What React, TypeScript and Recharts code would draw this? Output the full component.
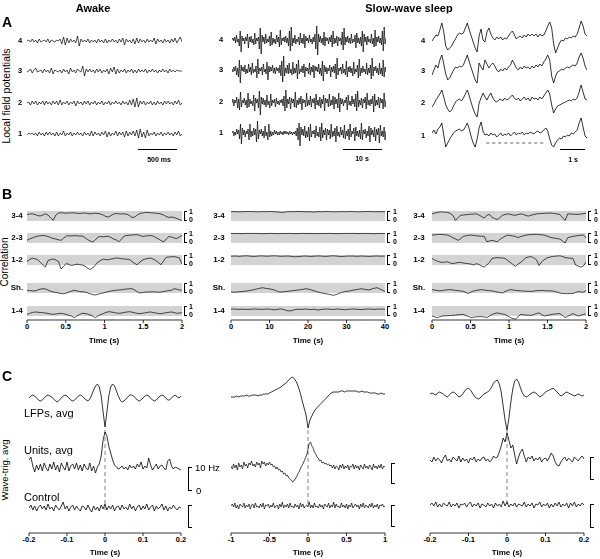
import React from 'react';
import { LineChart, Line, XAxis, YAxis, ReferenceArea, ReferenceLine } from 'recharts';

// ---- data (A and C in px-like units, B in correlation units) ----

// A, awake, channels 4..1 (2 s)
const awake4 = [0,1,-1,2,-1,1,-2,2,-1,0,1,-1,2,-2,1,0,-1,1,0,2,-3,4,-4,3,-2,2,-1,1,-2,5,-5,2,-1,1,-1,2,-2,1,-1,1,-2,2,-1,1,-2,2,-2,1,-1,2,-1,1,-2,2,-1,3,-4,2,-1,1,-2,2,-3,3,-2,2,-1,1,-2,2,-1,1,-1,3,-3,2,-1,1,-2,2,-1,1,-2,2,-1,3,-2,1,4,-1];
const awake3 = [-1,0,2,-2,1,3,-1,0,1,-2,2,-1,1,-2,3,-3,1,0,-1,1,-2,2,-1,1,-3,3,-1,1,-2,2,0,-1,5,-5,2,-1,2,-1,1,-2,2,-1,2,-2,1,-1,2,-3,3,-1,4,-3,2,-2,1,-1,2,-2,1,-1,2,-2,1,-2,2,-1,1,-1,2,-2,1,-1,2,-1,1,-2,1,-1,2,-1,1,-2,2,-1,1,-1,1,0,0,0];
const awake2 = [0,1,-2,2,-1,2,-2,1,-1,2,-2,2,-1,1,-2,2,-1,2,-2,3,-2,1,-1,2,-2,1,-1,2,-3,2,-1,1,-2,2,-1,2,-2,1,-1,2,-2,1,-1,2,-2,1,-1,2,-2,1,-1,2,-1,1,-2,2,-1,1,-2,3,-2,4,-4,5,-4,2,-1,2,-2,1,-1,2,-2,1,-2,2,-1,1,-2,2,-1,2,-1,1,-2,2,-1,3,-2,0];
const awake1 = [-1,1,0,1,-1,1,-2,2,-1,1,-2,2,-1,2,-1,1,-2,2,-2,1,-1,3,-2,1,-1,2,-2,1,-1,2,-1,1,-2,2,-1,1,-2,3,-2,2,-1,1,-2,2,-1,3,-3,2,-2,1,-1,3,-2,2,-1,2,-3,3,-2,2,-1,3,-2,4,-4,5,-3,2,-4,4,-2,1,-1,2,-2,1,-1,2,-2,1,-1,2,-1,1,-2,2,-1,3,-2,0];

// A, slow-wave sleep, 40 s
const sws4 = [0,2,-1,3,-3,5,-2,1,-6,9,-12,4,-1,2,-4,3,-1,6,-8,3,-2,4,-3,1,-5,7,-4,2,-1,3,-9,12,-14,5,-2,3,-4,6,-3,1,-2,4,-6,8,-5,2,-3,1,-4,5,-2,3,-7,10,-5,2,-1,3,-2,4,-3,2,-6,9,-11,13,-6,2,-3,5,-4,1,-2,3,-5,7,-3,2,-4,6,-8,4,-1,2,-3,5,-2,1,-4,3,-2,6,-9,14,-15,6,-2,4,-3,2,-5,8,-6,3,-1,2,-4,3,-2,5,-7,9,-4,2,-3,4,-6,3,-1,2,-5,8,-10,12,-5,3,-2,4,-3,2,-4,6,-3,1,-2,5,-8,7,-3,2,-4,3,-6,9,-12,6,-2,3,-5,4,-2,1,-3,6,-4,2,-7,10,-6,3,-2,4,-3,2,-5,9,-11,13,-4,2];
const sws3 = [1,-2,3,-1,4,-5,2,-7,10,-13,5,-1,3,-2,5,-4,1,-3,6,-2,3,-5,7,-3,1,-2,4,-8,11,-4,2,-1,3,-5,6,-2,1,-4,8,-10,4,-2,3,-1,5,-3,2,-4,3,-1,2,-3,5,-6,9,-12,14,-6,2,-3,5,-4,7,-3,1,-5,8,-4,2,-3,6,-9,10,-4,1,-2,4,-3,6,-7,3,-1,2,-4,7,-5,3,-2,5,-8,4,-1,3,-2,6,-4,2,-6,9,-11,5,-2,3,-4,2,-1,5,-7,3,-2,4,-3,6,-9,12,-5,2,-1,3,-4,6,-3,1,-5,9,-7,3,-2,4,-3,2,-6,8,-4,1,-2,5,-8,11,-6,2,-3,4,-2,1,-4,7,-5,2,-3,5,-9,12,-6,3,-1,4,-3,2,-5,7,-4,2,-6,10,-7,3,-2];
const sws2 = [-1,3,-4,2,-1,5,-6,3,-8,10,-5,2,-1,4,-3,2,-6,9,-5,3,-2,1,-4,7,-9,4,-1,3,-6,11,-13,5,-2,4,-3,2,-5,7,-3,1,-6,8,-4,2,-1,3,-5,4,-2,1,-3,2,-1,3,-4,6,-9,12,-6,3,-2,5,-7,4,-1,3,-5,10,-6,2,-3,4,-2,6,-8,3,-1,2,-5,9,-4,2,-3,6,-5,3,-1,4,-7,8,-3,2,-4,5,-6,3,-2,7,-9,4,-1,3,-5,8,-4,2,-3,6,-7,5,-2,3,-6,9,-10,4,-2,3,-4,2,-1,5,-8,7,-3,1,-4,6,-2,3,-5,8,-9,11,-5,2,-3,4,-6,3,-1,5,-7,9,-3,2,-4,3,-2,6,-10,8,-4,2,-3,5,-6,4,-1,3,-7,9,-5,2];
const sws1 = [0,2,-3,1,-2,4,-1,3,-6,9,-11,5,-2,3,-4,2,-1,4,-7,9,-4,2,-3,5,-2,4,-9,12,-6,3,-1,4,-3,2,-5,7,-3,1,-7,9,-4,2,-3,1,-2,3,-1,2,-2,1,-2,2,-1,1,-2,2,-1,2,-1,1,-2,2,-1,1,-2,1,-1,2,-3,5,-7,10,-13,6,-2,4,-3,7,-5,2,-4,6,-8,9,-4,2,-1,3,-5,7,-3,1,-4,6,-8,10,-5,3,-2,5,-7,4,-2,3,-6,9,-4,2,-3,5,-9,7,-3,1,-4,6,-2,3,-5,8,-6,2,-3,4,-7,9,-4,2,-1,5,-8,6,-3,2,-4,3,-6,10,-7,3,-1,4,-5,2,-3,7,-9,5,-2,3,-4,6,-8,4,-2,5,-10,8,-3,2,-4,6,-7,2];

// A, slow-wave sleep, expanded
const slow4 = [-3,0,3,2,8,15,6,-8,-12,-10,-8,-4,-1,3,5,4,5,10,15,8,2,-4,-10,-14,2,9,-2,-4,6,10,4,0,-2,1,-1,1,-2,0,-1,2,5,7,3,-1,1,2,0,3,1,4,2,4,2,4,1,4,2,3,7,12,16,10,-6,-15,-10,-5,-2,-3,0,-1,1,0,2,1,4,10,17,12,4,2];
const slow3 = [-7,-2,3,0,8,13,4,-6,-12,-10,-6,-2,1,0,2,1,3,8,13,6,0,-6,-12,-15,5,1,-2,8,4,0,3,5,2,-2,-4,-1,-3,0,-2,1,3,8,4,0,-2,1,-1,2,0,1,-1,2,0,3,1,4,2,6,9,13,8,-8,-15,-8,-4,-3,-1,-2,0,1,0,2,3,2,5,11,15,10,2,-2];
const slow2 = [-7,-4,0,3,6,10,3,-5,-9,-12,-10,-6,-2,0,1,-1,2,6,10,4,-3,-9,-14,-17,-3,2,7,3,0,4,7,2,-1,-2,0,1,-1,2,0,1,3,5,2,0,2,-1,1,3,0,2,-1,3,1,2,0,3,1,4,7,10,6,-5,-13,-9,-6,-5,-4,-3,-2,-1,0,-1,1,0,2,8,15,8,1,0];
const slow1 = [0,3,-1,4,6,10,-2,-14,-10,-6,-3,0,2,3,4,2,3,6,10,4,-4,-10,-14,-6,5,11,2,-2,-1,-3,0,-2,-1,-4,-2,0,-3,-1,-2,0,-3,-1,1,-2,0,-1,1,-2,0,-1,1,0,-1,1,2,0,1,3,5,2,-6,-12,-14,-10,-7,-5,-6,-3,-4,-2,-3,0,-1,1,3,10,15,6,-3,-5];

// B, correlation, awake (0-2 s)
const corrA34 = [0.65,0.7,0.72,0.65,0.55,0.5,0.6,0.72,0.6,0.3,0.08,0.6,0.8,0.82,0.8,0.78,0.8,0.82,0.8,0.78,0.75,0.78,0.8,0.75,0.72,0.75,0.78,0.75,0.7,0.6,0.45,0.4,0.55,0.7,0.75,0.72,0.7,0.72,0.68,0.55,0.35,0.4,0.6,0.75,0.8,0.85,0.85,0.82,0.8,0.78,0.75,0.7,0.6,0.45,0.35,0.4,0.35,0.25,0.15,0.05];
const corrA23 = [0.27,0.4,0.5,0.6,0.68,0.72,0.75,0.72,0.65,0.55,0.45,0.4,0.32,0.27,0.5,0.7,0.72,0.7,0.74,0.72,0.7,0.7,0.55,0.35,0.2,0.1,0.3,0.6,0.65,0.62,0.66,0.67,0.55,0.4,0.3,0.12,0.4,0.7,0.75,0.78,0.8,0.82,0.83,0.75,0.65,0.7,0.72,0.75,0.7,0.55,0.4,0.25,0.1,0.4,0.65,0.6,0.5,0.45,0.6,0.75];
const corrA12 = [0.35,0.55,0.68,0.62,0.55,0.3,0.03,-0.2,0.45,0.55,0.6,0.5,0.35,-0.4,-0.1,0.15,0.05,-0.05,0.02,0.08,0.05,0.0,-0.1,-0.3,-0.45,-0.3,0.0,0.3,0.45,0.58,0.55,0.52,0.6,0.65,0.7,0.68,0.62,0.6,0.58,0.55,0.35,0.15,0.03,0.3,0.5,0.6,0.65,0.7,0.6,0.45,0.25,0.03,0.4,0.77,0.8,0.82,0.84,0.78,0.7,0.1];
const corrASh = [0.27,0.25,0.22,0.2,0.3,0.38,0.43,0.4,0.3,0.18,0.1,0.05,0.0,-0.05,-0.07,0.0,0.1,0.2,0.27,0.22,0.15,0.12,0.1,0.02,-0.08,-0.15,-0.2,-0.12,-0.05,0.0,0.08,0.15,0.2,0.25,0.28,0.3,0.33,0.37,0.4,0.42,0.43,0.3,0.12,0.0,0.05,0.08,0.1,0.1,0.12,0.1,0.08,0.1,0.15,0.2,0.25,0.27,0.43,0.38,0.3,0.28];
const corrA14 = [0.17,0.25,0.35,0.4,0.38,0.35,0.33,0.3,0.25,0.2,0.17,0.2,0.25,0.27,0.22,0.15,0.05,0.0,-0.17,0.0,0.15,0.27,0.25,0.2,0.1,0.0,-0.17,0.0,0.15,0.23,0.35,0.43,0.4,0.35,0.3,0.27,0.3,0.35,0.4,0.43,0.38,0.32,0.27,0.23,0.28,0.32,0.37,0.4,0.35,0.3,0.25,0.23,0.28,0.33,0.37,0.4,0.35,0.27,0.3,0.33];

// B, correlation, slow-wave sleep (0-40 s)
const corrS34 = [0.93,0.94,0.92,0.93,0.95,0.94,0.93,0.92,0.94,0.93,0.95,0.93,0.9,0.85,0.92,0.94,0.93,0.95,0.94,0.92,0.93,0.9,0.94,0.93,0.95,0.94,0.92,0.93,0.94,0.93,0.95,0.94,0.92,0.93,0.94,0.95,0.93,0.94,0.93,0.94];
const corrS23 = [0.95,0.96,0.95,0.94,0.96,0.95,0.96,0.95,0.93,0.95,0.96,0.95,0.94,0.96,0.95,0.96,0.94,0.95,0.96,0.95,0.96,0.95,0.94,0.96,0.95,0.96,0.95,0.94,0.95,0.96,0.95,0.96,0.94,0.95,0.96,0.95,0.93,0.95,0.96,0.95];
const corrS12 = [0.88,0.9,0.87,0.9,0.92,0.88,0.86,0.9,0.91,0.88,0.9,0.92,0.89,0.87,0.9,0.88,0.82,0.84,0.88,0.9,0.86,0.88,0.91,0.89,0.86,0.9,0.92,0.88,0.85,0.88,0.9,0.89,0.87,0.9,0.88,0.86,0.89,0.9,0.88,0.9];
const corrSSh = [0.1,0.08,0.12,0.15,0.2,0.27,0.35,0.45,0.53,0.45,0.4,0.3,0.12,0.1,0.15,0.2,0.25,0.3,0.35,0.43,0.35,0.22,0.1,0.0,-0.07,-0.15,-0.23,-0.1,0.05,0.15,0.2,0.3,0.35,0.43,0.35,0.3,0.45,0.53,0.35,0.15];
const corrS14 = [0.68,0.7,0.66,0.68,0.65,0.68,0.7,0.68,0.66,0.7,0.67,0.62,0.68,0.7,0.55,0.5,0.62,0.68,0.66,0.7,0.64,0.68,0.6,0.66,0.7,0.68,0.65,0.7,0.66,0.62,0.68,0.7,0.67,0.64,0.68,0.7,0.66,0.68,0.7,0.67];

// B, correlation, slow-wave sleep expanded (0-2 s)
const corrX34 = [0.71,0.78,0.85,0.91,0.9,0.88,0.86,0.75,0.57,0.06,0.35,0.57,0.6,0.63,0.66,0.68,0.7,0.71,0.6,0.45,0.29,0.57,0.66,0.37,0.25,0.14,0.35,0.57,0.65,0.71,0.66,0.6,0.57,0.65,0.71,0.65,0.55,0.49,0.58,0.65,0.71,0.73,0.75,0.76,0.78,0.8,0.78,0.75,0.7,0.66,0.34,0.06,0.71,0.7,0.68,0.67,0.66,0.7,0.74,0.77];
const corrX23 = [0.79,0.82,0.85,0.87,0.85,0.82,0.79,0.68,0.53,0.4,0.26,0.45,0.66,0.72,0.76,0.79,0.76,0.72,0.7,0.68,0.66,0.13,0.2,0.26,0.2,0.13,0.35,0.53,0.68,0.79,0.75,0.7,0.66,0.53,0.65,0.72,0.79,0.82,0.84,0.86,0.87,0.84,0.82,0.79,0.7,0.6,0.53,0.48,0.44,0.39,0.2,0.0,0.53,0.6,0.66,0.71,0.74,0.77,0.79,0.53];
const corrX12 = [0.66,0.5,0.39,0.3,0.26,0.3,0.32,0.2,0.13,0.2,0.24,0.26,0.2,0.16,0.13,0.08,0.0,0.13,0.05,-0.1,-0.21,0.0,0.26,0.66,0.7,0.74,0.72,0.7,0.66,0.45,0.26,0.05,-0.13,0.1,0.26,0.5,0.74,0.8,0.84,0.7,0.53,-0.05,0.3,0.53,0.7,0.78,0.84,0.88,0.9,0.92,0.85,0.74,0.7,0.68,0.66,0.0,-0.1,-0.21,-0.1,0.3];
const corrXSh = [0.34,0.3,0.25,0.21,0.25,0.3,0.32,0.34,0.3,0.26,0.24,0.21,0.15,0.05,-0.05,0.1,0.21,0.26,0.3,0.34,0.3,0.26,0.24,0.21,0.15,0.1,0.05,0.0,0.15,0.25,0.34,0.3,0.26,0.24,0.21,0.2,0.18,0.17,0.16,0.2,0.23,0.25,0.26,0.24,0.22,0.21,0.21,0.15,0.08,0.0,-0.05,-0.05,-0.06,-0.05,-0.05,0.05,0.13,0.1,0.08,0.26];
const corrX14 = [0.0,-0.08,-0.16,-0.08,0.0,0.02,0.03,0.05,0.06,0.1,0.12,0.14,0.16,0.05,-0.05,-0.16,-0.12,-0.08,-0.07,-0.06,-0.1,-0.16,0.0,0.15,0.25,0.31,0.25,0.2,0.16,0.0,-0.16,-0.25,-0.31,-0.05,0.16,0.12,0.1,0.08,0.06,0.15,0.25,0.31,0.15,0.0,0.05,0.1,0.16,0.2,0.22,0.25,0.05,-0.16,-0.02,0.1,0.25,0.12,0.0,0.08,0.15,0.22];

// C, wave-triggered averages
const lfpAwake = [0,2,3,2,0,-2,-3,-2,0,2,3,2,1,-1,-3,-4,-2,0,2,3,2,0,-2,-3,-2,0,2,3,2,0,-2,-3,-1,3,8,12,14,11,2,-14,-29,-14,2,11,14,12,7,2,-2,-4,-3,-1,1,3,3,2,0,-2,-3,-2,0,2,3,2,0,-2,-3,-2,0,2,3,2,0,-2,-2,0,2,3,1,0,2];
const unitsAwake = [8,11,2,-4,3,-2,4,-3,5,0,-3,4,-1,6,-2,3,-4,5,1,-2,6,-3,2,4,-1,5,-2,3,-3,4,0,-2,5,-3,2,-5,1,4,12,28,36,32,22,15,8,3,1,-1,0,2,-1,1,-2,3,0,2,-1,4,1,6,-1,2,0,10,3,-2,1,4,-1,2,3,0,-2,7,9,2,-1,1,0,-1,-2];
const ctrlAwake = [0,3,-2,2,-3,1,3,-1,2,-2,4,-1,1,-3,3,0,-2,2,6,-1,2,-3,1,3,-2,2,-1,-3,2,1,-2,3,-1,-4,2,-2,1,-3,3,-1,4,-2,2,-1,3,-3,1,2,-2,3,-1,1,-2,4,-1,2,-3,1,3,-2,2,-1,4,-2,1,3,-3,2,-1,1,4,-2,2,-3,1,-1,3,0,-2,1,0];

const lfpSws = [0,0,0,1,0,1,1,1,2,1,1,2,2,2,1,2,2,3,3,3,4,5,6,7,8,9,10,12,13,15,17,19,20,18,15,10,4,-4,-11,-18,-31,-23,-19,-15,-12,-10,-8,-6,-4,-2,0,2,4,5,5,5,5,6,6,5,6,6,6,6,6,6,5,5,6,5,5,5,4,4,4,4,3,3,4,3,3];
const unitsSws = [1,-2,3,-1,2,-3,4,0,2,-2,5,1,3,-1,4,2,6,1,3,0,5,2,4,-1,6,3,5,1,4,2,5,2,3,0,1,-2,0,-3,-2,-5,-4,-7,-6,-9,-8,-11,-12,-13,-15,-14,-12,-10,-7,-5,-2,1,3,6,9,12,18,24,25,21,19,15,13,10,9,6,7,4,5,3,4,2,3,1,2,-1,2,-2,1,0,-3,2,-1,3,-2,1,-1,2,-3,1,0,3,-2,2,-1,1,-3,2,0,-2,3,-1,1,-2,2,0,-3,3,-1,1,-2,2,-1,3,-2,1,0];
const ctrlSws = [0,2,-1,3,-2,1,-3,2,0,-1,3,-2,1,-1,2,-3,1,2,-2,3,-1,0,-2,2,-1,3,-3,1,0,2,-2,1,-1,3,-2,0,1,-3,2,-1,4,-2,1,-1,2,-2,3,-1,0,-2,2,-1,1,-3,3,-1,2,-2,0,1,-1,4,-2,1,-2,3,-1,0,-2,2,-1,1,-3,2,0,-1,3,-2,1,-1,4,-2,2,-1,0,-2,3,-1,1,-2,2,-3,1,-1,3,-2,0,2,-1,1,-3,2,-1,3,-2,1,0,-2,2,-1,3,-2,1,-1,2,-3,1,0,2,-1,0];

const lfpSlow = [0,1,0,-1,1,2,1,0,-2,-3,-1,1,2,1,-1,-3,-2,0,3,5,6,4,1,-2,-4,-5,-4,-2,0,1,2,4,7,11,13,14,10,2,-12,-26,-36,-24,-8,5,13,15,12,6,1,-2,-3,-2,0,1,2,1,-1,-3,-2,0,2,3,4,5,6,4,2,0,-2,-1,1,2,1,0,-1,-2,-1,0,-1,-2,-1];
const unitsSlow = [0,-2,3,-1,2,0,-3,2,5,-1,1,-2,3,1,-1,4,-2,2,-1,1,-3,2,0,3,-2,1,-1,2,3,-1,1,-2,0,4,2,3,8,14,22,18,27,20,12,15,5,-4,3,8,11,4,-2,3,1,4,-1,2,0,3,-2,1,2,-1,3,7,4,-2,-5,-6,-2,1,3,-1,2,0,-2,3,1,-1,2,4,1];
const ctrlSlow = [0,2,-1,3,-2,1,-2,2,0,-1,3,-2,1,-1,2,-3,1,0,2,-2,1,3,-2,1,-1,2,-3,1,0,-2,2,-1,1,-3,2,-1,1,-2,4,-1,3,-2,1,-1,2,-2,1,0,-1,3,-2,1,-1,2,-3,1,0,3,-2,1,-1,2,-3,1,-2,2,-1,3,-2,1,-1,2,-3,2,-1,3,-2,1,-1,2,0];

// axis ticks
const ticksB = [0, 0.5, 1, 1.5, 2];
const ticksBLabels = ['0', '0.5', '1', '1.5', '2'];
const ticksB40 = [0, 10, 20, 30, 40];
const ticksB40Labels = ['0', '10', '20', '30', '40'];
const ticksC = [-0.2, -0.1, 0, 0.1, 0.2];
const ticksCLabels = ['-0.2', '-0.1', '0', '0.1', '0.2'];
const ticksC1 = [-1, -0.5, 0, 0.5, 1];
const ticksC1Labels = ['-1', '-0.5', '0', '0.5', '1'];

const channelLabels = ['4', '3', '2', '1'];
const pairLabels = ['3-4', '2-3', '1-2', 'Sh.', '1-4'];

// ---- drawing ----

const FONT = "Arial, 'Liberation Sans', Helvetica, sans-serif";
const PAD = 14;
const AXIS_H = 22;

type Axis = { ticks: number[]; labels: string[] };

type TraceProps = {
  values: number[];
  x: number;
  y: number;
  w: number;
  h: number;
  t0: number;
  t1: number;
  yMin: number;
  yMax: number;
  axis?: Axis;
  band?: boolean;
  sw?: number;
  children?: React.ReactNode;
};

function Trace({ values, x, y, w, h, t0, t1, yMin, yMax, axis, band, sw = 0.8, children }: TraceProps) {
  const rows = values.map((v, i) => ({ t: t0 + (i * (t1 - t0)) / (values.length - 1), v }));
  const axisH = axis ? AXIS_H : 0;
  return (
    <div style={{ position: 'absolute', left: x - PAD, top: y }}>
      <LineChart width={w + 2 * PAD} height={h + axisH} data={rows} margin={{ top: 0, right: PAD, bottom: 0, left: PAD }}>
        {axis ? (
          <XAxis
            type="number"
            dataKey="t"
            domain={[t0, t1]}
            allowDataOverflow
            ticks={axis.ticks}
            interval={0}
            tickFormatter={(v: number) => axis.labels[axis.ticks.indexOf(v)] ?? String(v)}
            height={AXIS_H}
            tickSize={3}
            tickMargin={1}
            padding={{ left: 0, right: 0 }}
            axisLine={{ stroke: '#000', strokeWidth: 0.8 }}
            tickLine={{ stroke: '#000', strokeWidth: 0.8 }}
            tick={{ fontSize: 7.5, fontWeight: 700, fill: '#000', fontFamily: FONT }}
          />
        ) : (
          <XAxis hide type="number" dataKey="t" domain={[t0, t1]} allowDataOverflow padding={{ left: 0, right: 0 }} />
        )}
        <YAxis hide type="number" domain={[yMin, yMax]} allowDataOverflow />
        {band && <ReferenceArea y1={0} y2={1} fill="#d3d3d3" fillOpacity={1} stroke="none" />}
        {children}
        <Line type="linear" dataKey="v" stroke="#000" strokeWidth={sw} dot={false} isAnimationActive={false} />
      </LineChart>
    </div>
  );
}

type TxtProps = {
  x: number;
  y: number;
  size: number;
  bold?: boolean;
  anchor?: 'start' | 'middle' | 'end';
  rotate?: boolean;
  children: React.ReactNode;
};

function Txt({ x, y, size, bold, anchor = 'middle', rotate, children }: TxtProps) {
  const tx = anchor === 'start' ? '0' : anchor === 'end' ? '-100%' : '-50%';
  return (
    <div
      style={{
        position: 'absolute',
        left: x,
        top: y,
        fontSize: size,
        fontWeight: bold ? 700 : 400,
        lineHeight: 1,
        whiteSpace: 'nowrap',
        willChange: rotate ? undefined : 'transform',
        transform: rotate ? 'translate(-50%,-50%) rotate(-90deg)' : `translate(${tx},-50%)`,
      }}
    >
      {children}
    </div>
  );
}

function Bracket({ x, y, h, w = 3 }: { x: number; y: number; h: number; w?: number }) {
  return (
    <div
      style={{
        position: 'absolute',
        left: x,
        top: y,
        width: w,
        height: h,
        borderLeft: '1px solid #000',
        borderTop: '1px solid #000',
        borderBottom: '1px solid #000',
        boxSizing: 'border-box',
      }}
    />
  );
}

function Bar({ x1, x2, y }: { x1: number; x2: number; y: number }) {
  return <div style={{ position: 'absolute', left: x1, top: y, width: x2 - x1, height: 1, background: '#000' }} />;
}

const aCenters = [
  [41, 71, 103, 134],
  [40, 70, 102, 133],
  [38, 68, 100, 133],
];
const bandTops = [211, 233, 255, 283, 306];

export default function App() {
  const awake = [awake4, awake3, awake2, awake1];
  const sws = [sws4, sws3, sws2, sws1];
  const slow = [slow4, slow3, slow2, slow1];
  const corrA = [corrA34, corrA23, corrA12, corrASh, corrA14];
  const corrS = [corrS34, corrS23, corrS12, corrSSh, corrS14];
  const corrX = [corrX34, corrX23, corrX12, corrXSh, corrX14];

  const bCols = [
    { data: corrA, x: 27, w: 155, t1: 2, axis: { ticks: ticksB, labels: ticksBLabels }, lab: 17, br: 184, one: 189, title: 104 },
    { data: corrS, x: 231, w: 154, t1: 40, axis: { ticks: ticksB40, labels: ticksB40Labels }, lab: 219, br: 387, one: 393, title: 308 },
    { data: corrX, x: 432, w: 154, t1: 2, axis: { ticks: ticksB, labels: ticksBLabels }, lab: 419, br: 588, one: 594, title: 509 },
  ];

  return (
    <div
      style={{
        position: 'absolute',
        left: 0,
        top: 0,
        width: 600,
        height: 559,
        background: '#fff',
        fontFamily: FONT,
        color: '#000',
        overflow: 'hidden',
      }}
    >
      {/* titles */}
      <Txt x={93} y={8} size={11} bold>Awake</Txt>
      <Txt x={409} y={8} size={11} bold>Slow-wave sleep</Txt>
      <Txt x={2} y={22} size={14} bold anchor="start">A</Txt>
      <Txt x={2} y={194} size={14} bold anchor="start">B</Txt>
      <Txt x={2} y={376} size={14} bold anchor="start">C</Txt>
      <Txt x={6} y={96} size={10.5} rotate>Local field potentials</Txt>
      <Txt x={5} y={262} size={10} rotate>Correlation</Txt>
      <Txt x={5} y={470} size={9.5} rotate>Wave-trig. avg</Txt>

      {/* A: local field potentials */}
      {awake.map((v, i) => (
        <Trace key={'aw' + i} values={v} x={27} y={aCenters[0][i] - 12} w={155} h={24} t0={0} t1={2} yMin={-12} yMax={12} sw={0.7} />
      ))}
      {sws.map((v, i) => (
        <Trace key={'sw' + i} values={v} x={232} y={aCenters[1][i] - 18} w={154} h={36} t0={0} t1={40} yMin={-18} yMax={18} sw={0.7} />
      ))}
      {slow.map((v, i) => (
        <Trace key={'sl' + i} values={v} x={432} y={aCenters[2][i] - 20} w={155} h={40} t0={0} t1={2} yMin={-20} yMax={20} sw={0.8}>
          {i === 3 && (
            <ReferenceLine segment={[{ x: 0.7, y: -10 }, { x: 1.47, y: -10 }]} stroke="#333" strokeDasharray="3 3" strokeWidth={0.8} />
          )}
        </Trace>
      ))}
      {channelLabels.map((l, i) => (
        <React.Fragment key={'cl' + i}>
          <Txt x={20} y={aCenters[0][i]} size={7.5} bold>{l}</Txt>
          <Txt x={221} y={aCenters[1][i]} size={7.5} bold>{l}</Txt>
          <Txt x={423} y={aCenters[2][i] + 3} size={7.5} bold>{l}</Txt>
        </React.Fragment>
      ))}
      <Bar x1={138} x2={177} y={149} />
      <Txt x={159} y={159} size={7} bold>500 ms</Txt>
      <Bar x1={343} x2={382} y={149} />
      <Txt x={362} y={158} size={7} bold>10 s</Txt>
      <Bar x1={560} x2={585} y={149} />
      <Txt x={573} y={159} size={7} bold>1 s</Txt>

      {/* B: correlation */}
      {bCols.map((c, ci) => (
        <React.Fragment key={'b' + ci}>
          {c.data.map((v, i) =>
            i < 4 ? (
              <Trace key={i} values={v} x={c.x} y={bandTops[i] - 6} w={c.w} h={22} t0={0} t1={c.t1} yMin={-0.6} yMax={1.6} band sw={0.7} />
            ) : (
              <Trace key={i} values={v} x={c.x} y={bandTops[i] - 6} w={c.w} h={20} t0={0} t1={c.t1} yMin={-0.4} yMax={1.6} band sw={0.7} axis={c.axis} />
            )
          )}
          {pairLabels.map((l, i) => (
            <React.Fragment key={'pl' + i}>
              <Txt x={c.lab} y={bandTops[i] + 5} size={8} bold>{l}</Txt>
              <Bracket x={c.br} y={bandTops[i]} h={10} />
              <Txt x={c.one} y={bandTops[i]} size={7} bold anchor="start">1</Txt>
              <Txt x={c.one} y={bandTops[i] + 8} size={7} bold anchor="start">0</Txt>
            </React.Fragment>
          ))}
          <Txt x={c.title} y={341} size={8} bold>Time (s)</Txt>
        </React.Fragment>
      ))}

      {/* C: wave-triggered averages */}
      <Trace values={lfpAwake} x={29} y={398 - 35} w={152} h={70} t0={-0.2} t1={0.2} yMin={-35} yMax={35} />
      <Trace values={unitsAwake} x={29} y={468 - 45} w={152} h={90} t0={-0.2} t1={0.2} yMin={-45} yMax={45}>
        <ReferenceLine segment={[{ x: 0, y: 38 }, { x: 0, y: -42 }]} stroke="#666" strokeDasharray="4 3" strokeWidth={0.8} />
      </Trace>
      <Trace values={ctrlAwake} x={29} y={493} w={152} h={40} t0={-0.2} t1={0.2} yMin={-25} yMax={15} axis={{ ticks: ticksC, labels: ticksCLabels }} />

      <Trace values={lfpSws} x={231} y={397 - 35} w={154} h={70} t0={-1} t1={1} yMin={-35} yMax={35} />
      <Trace values={unitsSws} x={231} y={467 - 45} w={154} h={90} t0={-1} t1={1} yMin={-45} yMax={45} sw={0.7}>
        <ReferenceLine segment={[{ x: 0, y: 37 }, { x: 0, y: -39 }]} stroke="#666" strokeDasharray="4 3" strokeWidth={0.8} />
      </Trace>
      <Trace values={ctrlSws} x={231} y={491} w={154} h={42} t0={-1} t1={1} yMin={-27} yMax={15} sw={0.7} axis={{ ticks: ticksC1, labels: ticksC1Labels }} />

      <Trace values={lfpSlow} x={430} y={394 - 40} w={154} h={80} t0={-0.2} t1={0.2} yMin={-40} yMax={40} />
      <Trace values={unitsSlow} x={430} y={460 - 50} w={154} h={100} t0={-0.2} t1={0.2} yMin={-50} yMax={50}>
        <ReferenceLine segment={[{ x: 0, y: 30 }, { x: 0, y: -45 }]} stroke="#666" strokeDasharray="4 3" strokeWidth={0.8} />
      </Trace>
      <Trace values={ctrlSlow} x={430} y={490} w={154} h={43} t0={-0.2} t1={0.2} yMin={-28} yMax={15} axis={{ ticks: ticksC, labels: ticksCLabels }} />

      <Txt x={24} y={413} size={11} anchor="start">LFPs, avg</Txt>
      <Txt x={24} y={450} size={11} anchor="start">Units, avg</Txt>
      <Txt x={24} y={497} size={11} anchor="start">Control</Txt>
      <Bracket x={188} y={467} h={24} w={4} />
      <Txt x={195} y={468} size={9.5} anchor="start">10 Hz</Txt>
      <Txt x={196} y={491} size={9.5} anchor="start">0</Txt>
      <Bracket x={188} y={505} h={23} w={4} />
      <Bracket x={391} y={463} h={21} w={4} />
      <Bracket x={391} y={505} h={22} w={4} />
      <Bracket x={590} y={457} h={23} w={4} />
      <Bracket x={590} y={504} h={24} w={4} />
      <Txt x={105} y={553} size={8} bold>Time (s)</Txt>
      <Txt x={308} y={553} size={8} bold>Time (s)</Txt>
      <Txt x={507} y={553} size={8} bold>Time (s)</Txt>
    </div>
  );
}
